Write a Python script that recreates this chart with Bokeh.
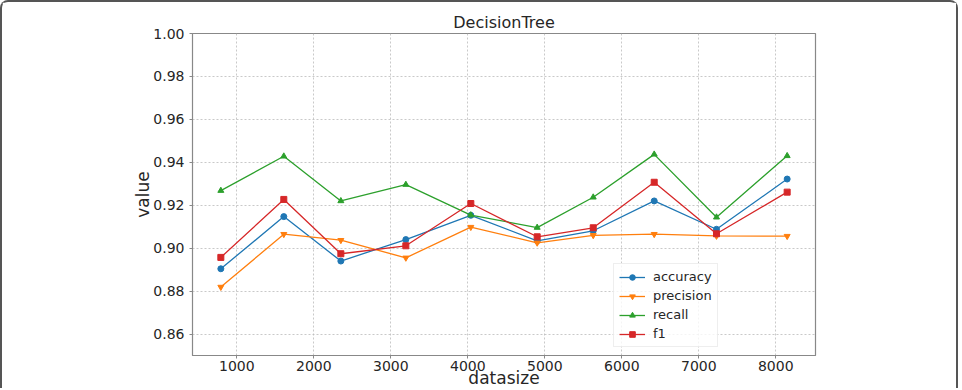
from bokeh.plotting import figure
from bokeh.models import Range1d, FixedTicker, Legend, LegendItem
from bokeh.embed import file_html
from bokeh.resources import INLINE

datasize = [792, 1610, 2351, 3195, 4039, 4901, 5629, 6421, 7230, 8148]
accuracy = [0.8904, 0.9147, 0.8940, 0.9040, 0.9153, 0.9034, 0.9081, 0.9220, 0.9088, 0.9322]
precision = [0.8819, 0.9065, 0.9037, 0.8955, 0.9098, 0.9025, 0.9060, 0.9065, 0.9057, 0.9056]
recall = [0.9268, 0.9428, 0.9220, 0.9296, 0.9154, 0.9096, 0.9237, 0.9437, 0.9144, 0.9430]
f1 = [0.8957, 0.9227, 0.8974, 0.9011, 0.9208, 0.9053, 0.9095, 0.9307, 0.9067, 0.9261]
x_ticks = [1000, 2000, 3000, 4000, 5000, 6000, 7000, 8000]
y_ticks = [0.86, 0.88, 0.90, 0.92, 0.94, 0.96, 0.98, 1.00]

FONT = "DejaVu Sans"
TXT = "#262626"

p = figure(width=958, height=388, output_backend="svg", toolbar_location=None,
           x_range=Range1d(424, 8516), y_range=Range1d(0.85, 1.00),
           min_border_left=190, min_border_right=145, min_border_top=31, min_border_bottom=33)
p.styles = {"border-top": "2px solid #555", "border-left": "2px solid #555",
            "border-right": "2px solid #555", "border-top-left-radius": "8px",
            "border-top-right-radius": "8px"}

p.title.text = "DecisionTree"
p.title.align = "center"
p.title.text_font = FONT
p.title.text_font_size = "16px"
p.title.text_font_style = "normal"
p.title.text_color = TXT
p.title.standoff = 4

p.outline_line_color = "#888888"
p.outline_line_width = 1.2

for ax in (p.xaxis, p.yaxis):
    ax.axis_line_color = "#888888"
    ax.major_tick_line_color = "#888888"
    ax.major_tick_out = 3
    ax.major_tick_in = 0
    ax.minor_tick_line_color = None
    ax.major_label_text_font = FONT
    ax.major_label_text_font_size = "14px"
    ax.major_label_text_color = TXT
    ax.axis_label_text_font = FONT
    ax.axis_label_text_font_size = "17px"
    ax.axis_label_text_font_style = "normal"
    ax.axis_label_text_color = TXT

p.xaxis.ticker = FixedTicker(ticks=x_ticks)
p.yaxis.ticker = FixedTicker(ticks=y_ticks)
p.yaxis.major_label_overrides = {t: f"{t:.2f}" for t in y_ticks}
p.xaxis.major_label_standoff = 2
p.xaxis.axis_label = "datasize"
p.xaxis.axis_label_standoff = -6
p.yaxis.axis_label = "value"
p.yaxis.axis_label_standoff = -3

for g in (p.xgrid, p.ygrid):
    g.grid_line_color = "#bbbbbb"
    g.grid_line_dash = "2 2"
    g.grid_line_width = 0.8

series = [
    ("accuracy", accuracy, "#1f77b4", "circle"),
    ("precision", precision, "#ff7f0e", "inverted_triangle"),
    ("recall", recall, "#2ca02c", "triangle"),
    ("f1", f1, "#d62728", "square"),
]
items = []
for name, ys, color, marker in series:
    l = p.line(datasize, ys, line_color=color, line_width=1.3)
    m = p.scatter(datasize, ys, marker=marker, size=6, fill_color=color, line_color=color)
    items.append(LegendItem(label=name, renderers=[l, m]))

legend = Legend(items=items, location=(421, 8))
legend.label_text_font = FONT
legend.label_text_font_size = "13px"
legend.label_text_color = TXT
legend.border_line_color = "#dddddd"
legend.background_fill_alpha = 0.8
legend.glyph_width = 26
legend.glyph_height = 14
legend.label_height = 14
legend.spacing = 4
legend.padding = 5
legend.margin = 0
legend.label_standoff = 8
p.add_layout(legend)

open("out.html", "w").write(file_html(p, INLINE))
